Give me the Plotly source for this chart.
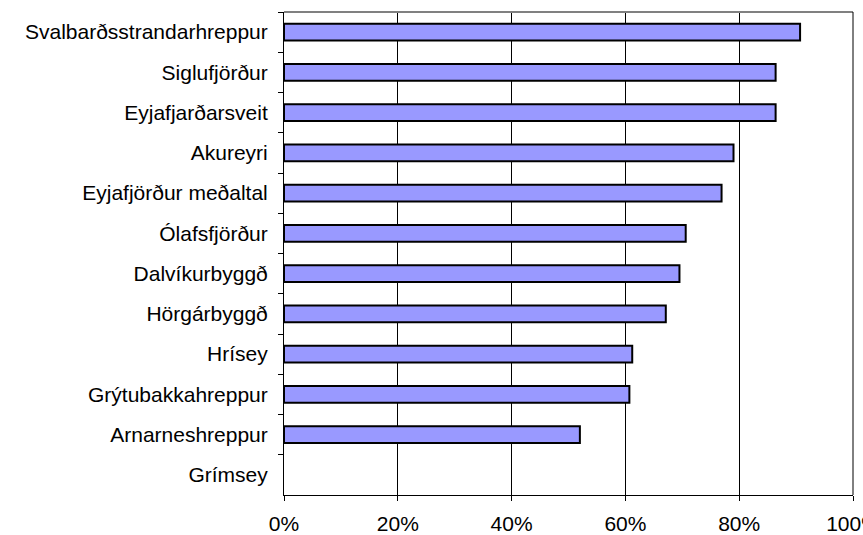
import plotly.graph_objects as go

categories = [
    "Svalbarðsstrandarhreppur",
    "Siglufjörður",
    "Eyjafjarðarsveit",
    "Akureyri",
    "Eyjafjörður meðaltal",
    "Ólafsfjörður",
    "Dalvíkurbyggð",
    "Hörgárbyggð",
    "Hrísey",
    "Grýtubakkahreppur",
    "Arnarneshreppur",
    "Grímsey",
]
values = [0.907, 0.864, 0.864, 0.790, 0.769, 0.706, 0.695, 0.671, 0.612, 0.607, 0.520, 0.0]
x_ticks = [0, 0.2, 0.4, 0.6, 0.8, 1.0]

outline_widths = [2 if v > 0 else 0 for v in values]

fig = go.Figure(
    go.Bar(
        x=values,
        y=categories,
        orientation="h",
        width=0.42,
        marker=dict(color="#9999FF", line=dict(color="black", width=outline_widths)),
        hoverinfo="x+y",
    )
)

font = dict(family="Liberation Sans, Arial, sans-serif", size=21, color="black")

fig.update_layout(
    width=863,
    height=535,
    margin=dict(l=284, r=10, t=12, b=40),
    paper_bgcolor="white",
    plot_bgcolor="white",
    font=font,
    showlegend=False,
    xaxis=dict(
        range=[0, 1],
        tickvals=x_ticks,
        tickformat=".0%",
        showgrid=True,
        gridcolor="black",
        gridwidth=1,
        zeroline=False,
        showline=True,
        linecolor="black",
        linewidth=1,
        ticks="outside",
        ticklen=5,
        tickcolor="black",
        ticklabeloverflow="allow",
        ticklabelstandoff=5,
        automargin=False,
        fixedrange=True,
    ),
    yaxis=dict(
        categoryorder="array",
        categoryarray=categories,
        autorange="reversed",
        showgrid=False,
        zeroline=False,
        showline=True,
        linecolor="black",
        linewidth=1,
        ticks="outside",
        tickson="boundaries",
        ticklen=5,
        tickcolor="black",
        ticklabelstandoff=11,
        automargin=False,
        fixedrange=True,
    ),
    shapes=[
        dict(type="line", xref="paper", yref="paper", x0=0, x1=1, y0=1, y1=1,
             line=dict(color="#808080", width=2)),
        dict(type="line", xref="paper", yref="paper", x0=1, x1=1, y0=0, y1=1,
             line=dict(color="black", width=1)),
    ],
)

fig.write_html(
    "out.html",
    config={"displayModeBar": False},
    post_script="document.body.style.margin='0px';document.body.style.overflow='hidden';",
)
